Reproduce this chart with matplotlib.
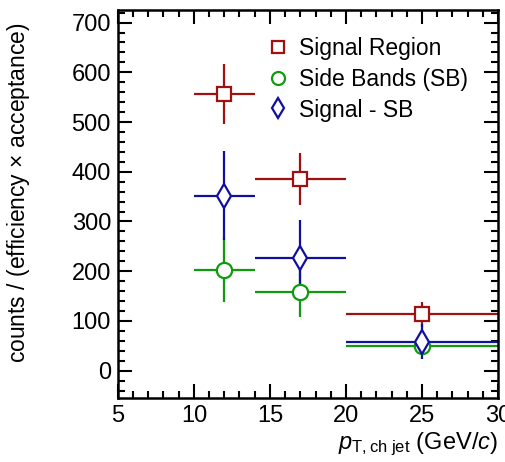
import matplotlib
matplotlib.use("Agg")
import matplotlib.pyplot as plt
from matplotlib.ticker import MultipleLocator

plt.rcParams['font.family'] = ['Liberation Sans', 'DejaVu Sans']
plt.rcParams['mathtext.fontset'] = 'custom'
plt.rcParams['mathtext.rm'] = 'Liberation Sans'
plt.rcParams['mathtext.it'] = 'Liberation Sans:italic'

# bins
x_centers = [12, 17, 25]
x_lo = [10, 14, 20]
x_hi = [14, 20, 30]

sig_vals = [557, 386, 113]
sig_err = [60, 52, 26]
sb_vals = [203, 159, 50]
sb_err = [65, 52, 10]
sub_vals = [352, 227, 58]
sub_err = [90, 75, 35]

labels = ["Signal Region", "Side Bands (SB)", "Signal - SB"]

red = '#a01010'
green = '#109a10'
blue = '#1010a0'

fig = plt.figure(figsize=(5.06, 4.62), dpi=100)
ax = fig.add_axes([0.233, 0.1385, 0.751, 0.8395])

xerr = [[c - l for c, l in zip(x_centers, x_lo)], [h - c for c, h in zip(x_centers, x_hi)]]

series = [
    (sig_vals, sig_err, red, 's', 10.5, labels[0]),
    (sb_vals, sb_err, green, 'o', 11, labels[1]),
    (sub_vals, sub_err, blue, 'd', 12, labels[2]),
]
handles = []
for vals, err, col, mk, ms, lab in series:
    ax.errorbar(x_centers, vals, yerr=err, xerr=xerr, fmt='none', ecolor=col,
                elinewidth=1.6, capsize=0, zorder=2)
    h, = ax.plot(x_centers, vals, linestyle='none', marker=mk, markersize=ms,
                 markerfacecolor='white', markeredgecolor=col, markeredgewidth=1.6,
                 zorder=3, label=lab)
    handles.append(h)

ax.set_xlim(5, 30)
ax.set_ylim(-55, 725)
ax.xaxis.set_major_locator(MultipleLocator(5))
ax.xaxis.set_minor_locator(MultipleLocator(1))
ax.yaxis.set_major_locator(MultipleLocator(100))
ax.yaxis.set_minor_locator(MultipleLocator(20))
ax.tick_params(which='both', direction='in', top=True, right=True, width=1.5)
ax.tick_params(which='major', length=10, labelsize=17, pad=5)
ax.tick_params(which='minor', length=5)
for s in ax.spines.values():
    s.set_linewidth(1.8)

ax.set_ylabel(r"counts / (efficiency $\times$ acceptance)", fontsize=16.5)
ax.yaxis.set_label_coords(-0.225, 0.53)
fig.text(0.985, 0.008, r"$p_{\mathrm{T,ch\ jet}}$ (GeV/$c$)", fontsize=17,
         ha='right', va='bottom')

leg = ax.legend(handles=handles, loc='upper left', bbox_to_anchor=(0.33, 0.983),
                frameon=False, fontsize=16.5, handletextpad=0.35, labelspacing=0.33,
                handlelength=1.2, markerscale=0.85)

fig.savefig("out.png", dpi=100)
